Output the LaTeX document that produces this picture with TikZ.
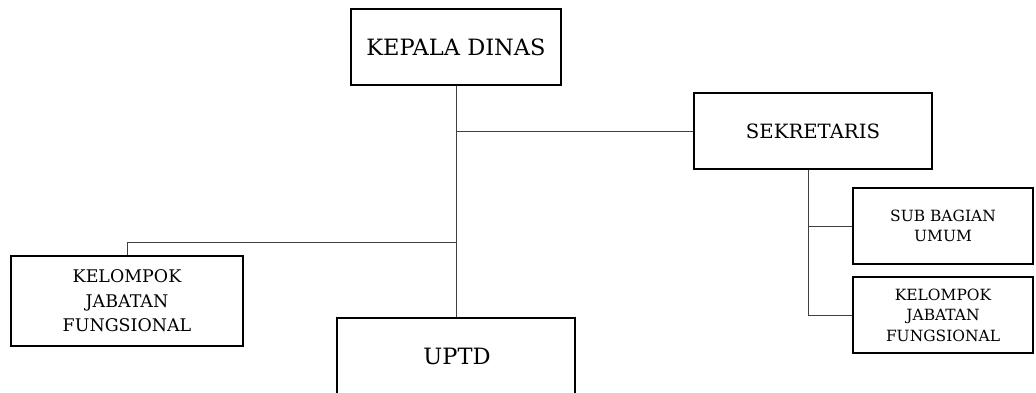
\documentclass[tikz,border=0pt]{standalone}
\usepackage{fontspec}
\setmainfont{DejaVu Serif}
\usetikzlibrary{calc}

\begin{document}
\begin{tikzpicture}[x=0.025cm, y=-0.025cm,
        unit/.style={draw=black, line width=1.3pt, fill=white, align=center,
                     inner sep=2pt},
        big/.style={unit, font=\fontsize{16}{19}\selectfont},
        mid/.style={unit, font=\fontsize{14}{17}\selectfont},
        small/.style={unit, font=\fontsize{11}{14.5}\selectfont},
        link/.style={draw=black!75, line width=0.7pt}
      ]
        \useasboundingbox (0,0) rectangle (1036,393);
        \clip (0,0) rectangle (1036,393);

        \node[big, minimum width=5.25cm, minimum height=1.9cm]   (kd)   at (456,47)  {KEPALA DINAS};
        \node[mid, minimum width=5.95cm, minimum height=1.9cm]   (sek)  at (813,131) {SEKRETARIS};
        \node[small, minimum width=4.5cm, minimum height=1.9cm]  (sub)  at (943,226) {SUB BAGIAN\\UMUM};
        \node[small, minimum width=4.5cm, minimum height=1.9cm]  (kjfR) at (943,315) {KELOMPOK\\JABATAN\\FUNGSIONAL};
        \node[small, minimum width=5.8cm, minimum height=2.25cm,
              font=\fontsize{12.4}{17.5}\selectfont]             (kjfL) at (127,301) {KELOMPOK\\JABATAN\\FUNGSIONAL};
        \node[big, minimum width=5.95cm, minimum height=2.5cm]   (uptd) at (456,368) {};
        \node[font=\fontsize{16}{19}\selectfont] (uptdtxt) at (457,356) {UPTD};

        \coordinate (lbar) at (456,242);
        \coordinate (sdrop) at ($(sek.south)+(-5,0)$);

        \draw[link] (kd.south) -- (uptd.north);
        \draw[link] (kd.south |- sek.west) -- (sek.west);
        \draw[link] (lbar) -| (kjfL.north);
        \draw[link] (sdrop) |- (kjfR.west);
        \draw[link] (sdrop |- sub.west) -- (sub.west);
      \end{tikzpicture}
\end{document}
